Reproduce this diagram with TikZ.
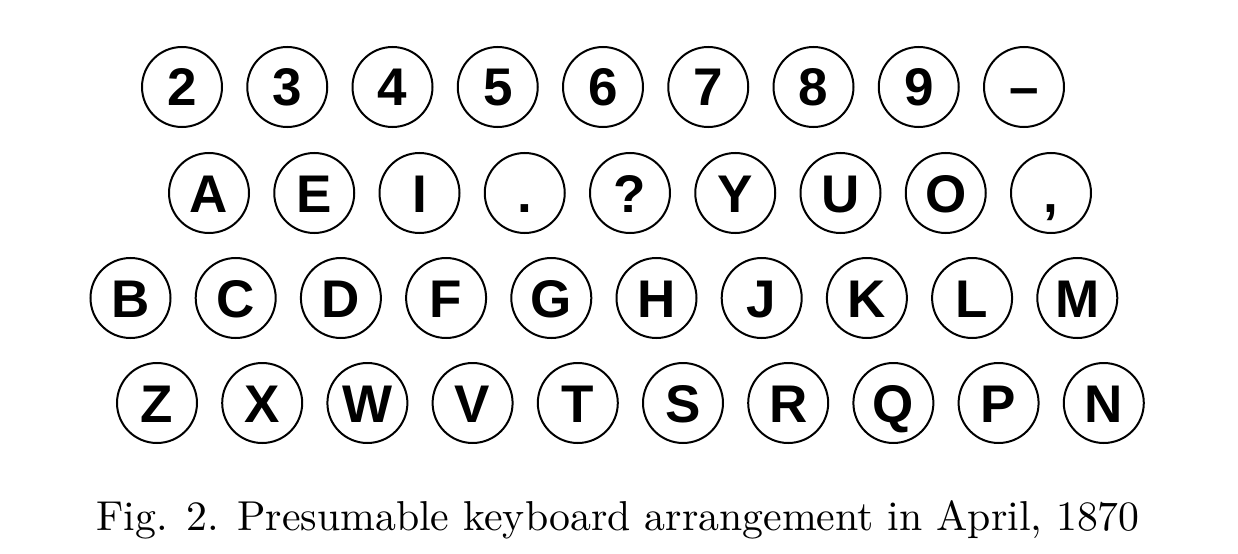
\documentclass[tikz,border=0pt]{standalone}
\usepackage{fontspec}
\newfontfamily\keyfont{Liberation Sans}
\newfontfamily\capfont{lmroman10-regular.otf}
\begin{document}
\begin{tikzpicture}[x=0.5pt,y=0.5pt,
  key/.style={circle,draw,line width=1pt,minimum size=40pt,inner sep=0pt,
    font=\keyfont\bfseries\fontsize{26.5pt}{26.5pt}\selectfont,
    text height=19pt,text depth=0pt},
  caption/.style={anchor=base,font=\capfont\fontsize{20.9pt}{24pt}\selectfont}]
\useasboundingbox (0,0) rectangle (1238,553);
\foreach \t [count=\i from 0] in {2,3,4,5,6,7,8,9,–}
  \node[key] (r1k\i) at (182+105.25*\i,466) {\t};
\foreach \t [count=\i from 0] in {A,E,I,.,?,Y,U,O,{,}}
  \node[key] (r2k\i) at (209+105.25*\i,360) {\t};
\foreach \t [count=\i from 0] in {B,C,D,F,G,H,J,K,L,M}
  \node[key] (r3k\i) at (130.5+105.2*\i,255) {\t};
\foreach \t [count=\i from 0] in {Z,X,W,V,T,S,R,Q,P,N}
  \node[key] (r4k\i) at (157+105.2*\i,150) {\t};
\node[caption] (cap) at (618,23) {Fig. 2. Presumable keyboard arrangement in April, 1870};
\end{tikzpicture}
\end{document}
